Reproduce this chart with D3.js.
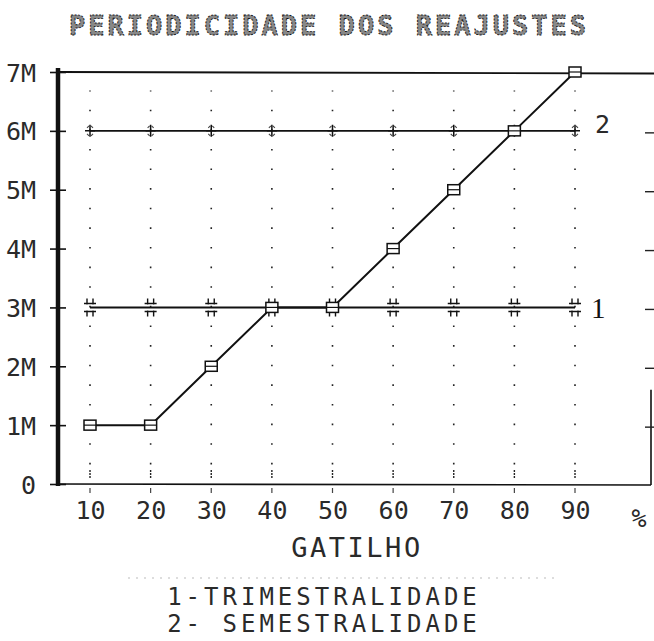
<!DOCTYPE html>
<html lang="pt">
<head>
  <meta charset="utf-8">
  <title>Periodicidade dos Reajustes</title>
  <script src="https://d3js.org/d3.v7.min.js"></script>
  <style>
    body { margin: 0; background: #fff; }
    svg text { font-family: 'DejaVu Sans Mono', monospace; fill: #2a2a2a; }
    .title { font-size: 27px; font-weight: bold; letter-spacing: 3px; fill: #888; stroke: #111; stroke-width: 0.9px; stroke-dasharray: 2 1.4; }
    .tick-label { font-size: 25px; }
    .serie-label { font-family: 'Liberation Serif', serif; font-size: 29px; fill: #111; }
    .legend { font-size: 24px; letter-spacing: 4px; }
  </style>
</head>
<body>
  <div id="chart"></div>
  <script>

    // gatilho (%)
    var gatilho = [10, 20, 30, 40, 50, 60, 70, 80, 90];
    // valores em milhoes
    var trimestralidade = [3, 3, 3, 3, 3, 3, 3, 3, 3];
    var semestralidade = [6, 6, 6, 6, 6, 6, 6, 6, 6];
    var gatilhoLinha = [1, 1, 2, 3, 3, 4, 5, 6, 7];
    var yTicks = [0, 1, 2, 3, 4, 5, 6, 7];
    var yTickLabels = ['0', '1M', '2M', '3M', '4M', '5M', '6M', '7M'];
    var legenda = ['1-TRIMESTRALIDADE', '2- SEMESTRALIDADE'];

    var W = 654, H = 641;
    var axisLeftX = 58, axisRightX = 651;

    var svg = d3.select('#chart').append('svg')
      .attr('width', W)
      .attr('height', H);

    var x = d3.scaleLinear().domain([10, 90]).range([90, 575]);
    var y = d3.scaleLinear().domain([0, 7]).range([484, 72]);
    var step = (y(0) - y(1)) / 3;

    // titulo
    svg.append('text')
      .attr('class', 'title')
      .attr('x', 329).attr('y', 35)
      .attr('text-anchor', 'middle')
      .text('PERIODICIDADE DOS REAJUSTES');

    // grade pontilhada
    var grid = svg.append('g');
    gatilho.forEach(function(g) {
      grid.append('line')
        .attr('x1', x(g)).attr('x2', x(g))
        .attr('y1', y(0) - step).attr('y2', y(7) + step - 1)
        .attr('stroke', '#222').attr('stroke-width', 1.6)
        .attr('stroke-dasharray', '1.6,' + (step - 1.6));
      grid.append('line')
        .attr('x1', x(g)).attr('x2', x(g))
        .attr('y1', y(0) - 14).attr('y2', y(0) - 6)
        .attr('stroke', '#222').attr('stroke-width', 1.4)
        .attr('stroke-dasharray', '2,1');
      grid.append('line')
        .attr('x1', x(g)).attr('x2', x(g))
        .attr('y1', y(0) + 4).attr('y2', y(0) + 9)
        .attr('stroke', '#444').attr('stroke-width', 1.2);
    });

    // eixo y
    var yAxis = d3.axisLeft(y)
      .tickValues(yTicks)
      .tickSize(8)
      .tickPadding(14)
      .tickFormat(function(d, i) { return yTickLabels[i]; });

    var gy = svg.append('g')
      .attr('transform', 'translate(' + axisLeftX + ',0)')
      .call(yAxis);
    gy.select('.domain').remove();
    gy.selectAll('.tick line')
      .attr('x1', 8).attr('x2', -8)
      .attr('stroke', '#111').attr('stroke-width', 1.6);
    gy.selectAll('.tick text')
      .attr('class', 'tick-label')
      .attr('dy', '0.36em')
      .attr('fill', '#2a2a2a');

    svg.append('line')
      .attr('x1', axisLeftX).attr('x2', axisLeftX)
      .attr('y1', y(7) - 4).attr('y2', y(0) + 2)
      .attr('stroke', '#111').attr('stroke-width', 4.5);

    // linha superior (7M)
    svg.append('line')
      .attr('x1', axisLeftX).attr('x2', W)
      .attr('y1', y(7)).attr('y2', y(7) + 1.5)
      .attr('stroke', '#111').attr('stroke-width', 1.8);

    // eixo x
    svg.append('line')
      .attr('x1', axisLeftX - 2).attr('x2', axisRightX)
      .attr('y1', y(0)).attr('y2', y(0) + 1)
      .attr('stroke', '#111').attr('stroke-width', 1.6);

    var xAxis = d3.axisBottom(x)
      .tickValues(gatilho)
      .tickSize(0)
      .tickPadding(26);
    var gx = svg.append('g')
      .attr('transform', 'translate(0,' + y(0) + ')')
      .call(xAxis);
    gx.select('.domain').remove();
    gx.selectAll('.tick text')
      .attr('class', 'tick-label')
      .attr('dy', '0.36em')
      .attr('fill', '#2a2a2a');

    svg.append('text')
      .attr('class', 'tick-label')
      .attr('x', 639).attr('y', 527)
      .attr('text-anchor', 'middle')
      .text('%');

    // eixo direito (parcial)
    svg.append('line')
      .attr('x1', axisRightX).attr('x2', axisRightX)
      .attr('y1', y(1.6)).attr('y2', y(0) + 1)
      .attr('stroke', '#111').attr('stroke-width', 1.6);
    yTicks.slice(1, 7).forEach(function(t) {
      svg.append('line')
        .attr('x1', axisRightX - 6).attr('x2', W)
        .attr('y1', y(t) + 2).attr('y2', y(t) + 2)
        .attr('stroke', '#222').attr('stroke-width', 1.4);
    });

    // series
    var line = d3.line()
      .x(function(d, i) { return x(gatilho[i]); })
      .y(function(d) { return y(d); });

    svg.append('path')
      .datum(semestralidade)
      .attr('d', line)
      .attr('fill', 'none').attr('stroke', '#111').attr('stroke-width', 1.6);

    svg.append('path')
      .datum(trimestralidade)
      .attr('d', line)
      .attr('fill', 'none').attr('stroke', '#111').attr('stroke-width', 2);

    svg.append('path')
      .datum(gatilhoLinha)
      .attr('d', line)
      .attr('fill', 'none').attr('stroke', '#111').attr('stroke-width', 2);

    // marcadores serie 2 (+)
    var m2 = svg.selectAll('.m2').data(semestralidade).enter().append('g')
      .attr('transform', function(d, i) { return 'translate(' + x(gatilho[i]) + ',' + y(d) + ')'; });
    m2.append('path')
      .attr('d', 'M-5,0H5M0,-6V6')
      .attr('stroke', '#111').attr('stroke-width', 1.5).attr('fill', 'none');
    m2.append('path')
      .attr('d', 'M-3,-3L-1,-5M3,3L1,5M-3,3L-1,5M3,-3L1,-5')
      .attr('stroke', '#444').attr('stroke-width', 1.1).attr('fill', 'none');

    // marcadores serie 1 (#)
    var m1 = svg.selectAll('.m1').data(trimestralidade).enter().append('g')
      .attr('transform', function(d, i) { return 'translate(' + x(gatilho[i]) + ',' + y(d) + ')'; });
    m1.append('path')
      .attr('d', 'M-3,-9V-3M3,-9V-3M-3,3V9M3,3V9M-6,-4H6M-6,4H6')
      .attr('stroke', '#111').attr('stroke-width', 1.4).attr('fill', 'none');

    // marcadores gatilho (quadrado)
    var m3 = svg.selectAll('.m3').data(gatilhoLinha).enter().append('g')
      .attr('transform', function(d, i) { return 'translate(' + x(gatilho[i]) + ',' + y(d) + ')'; });
    m3.append('rect')
      .attr('x', -6).attr('y', -5).attr('width', 12).attr('height', 10)
      .attr('fill', '#fff').attr('stroke', '#111').attr('stroke-width', 1.5);
    m3.append('line')
      .attr('x1', -6).attr('x2', 6).attr('y1', 0).attr('y2', 0)
      .attr('stroke', '#111').attr('stroke-width', 1.2);

    // rotulos das series
    svg.append('text')
      .attr('class', 'serie-label')
      .attr('x', 591).attr('y', y(3) + 11)
      .text('1');
    svg.append('text')
      .attr('class', 'tick-label')
      .attr('x', 595).attr('y', y(6) + 2)
      .text('2');

    // titulo do eixo x
    svg.append('text')
      .attr('class', 'tick-label')
      .attr('x', 357).attr('y', 557)
      .attr('text-anchor', 'middle')
      .style('font-size', '27px')
      .style('letter-spacing', '2.5px')
      .text('GATILHO');

    // linha tracejada de digitalizacao
    svg.append('line')
      .attr('x1', 128).attr('x2', 560)
      .attr('y1', 578).attr('y2', 578)
      .attr('stroke', '#bbb').attr('stroke-width', 1)
      .attr('stroke-dasharray', '2,6');

    // legenda
    svg.selectAll('.leg').data(legenda).enter().append('text')
      .attr('class', 'legend')
      .attr('x', 324)
      .attr('y', function(d, i) { return 605 + i * 27; })
      .attr('text-anchor', 'middle')
      .attr('xml:space', 'preserve')
      .style('white-space', 'pre')
      .text(function(d) { return d; });

  </script>
</body>
</html>
